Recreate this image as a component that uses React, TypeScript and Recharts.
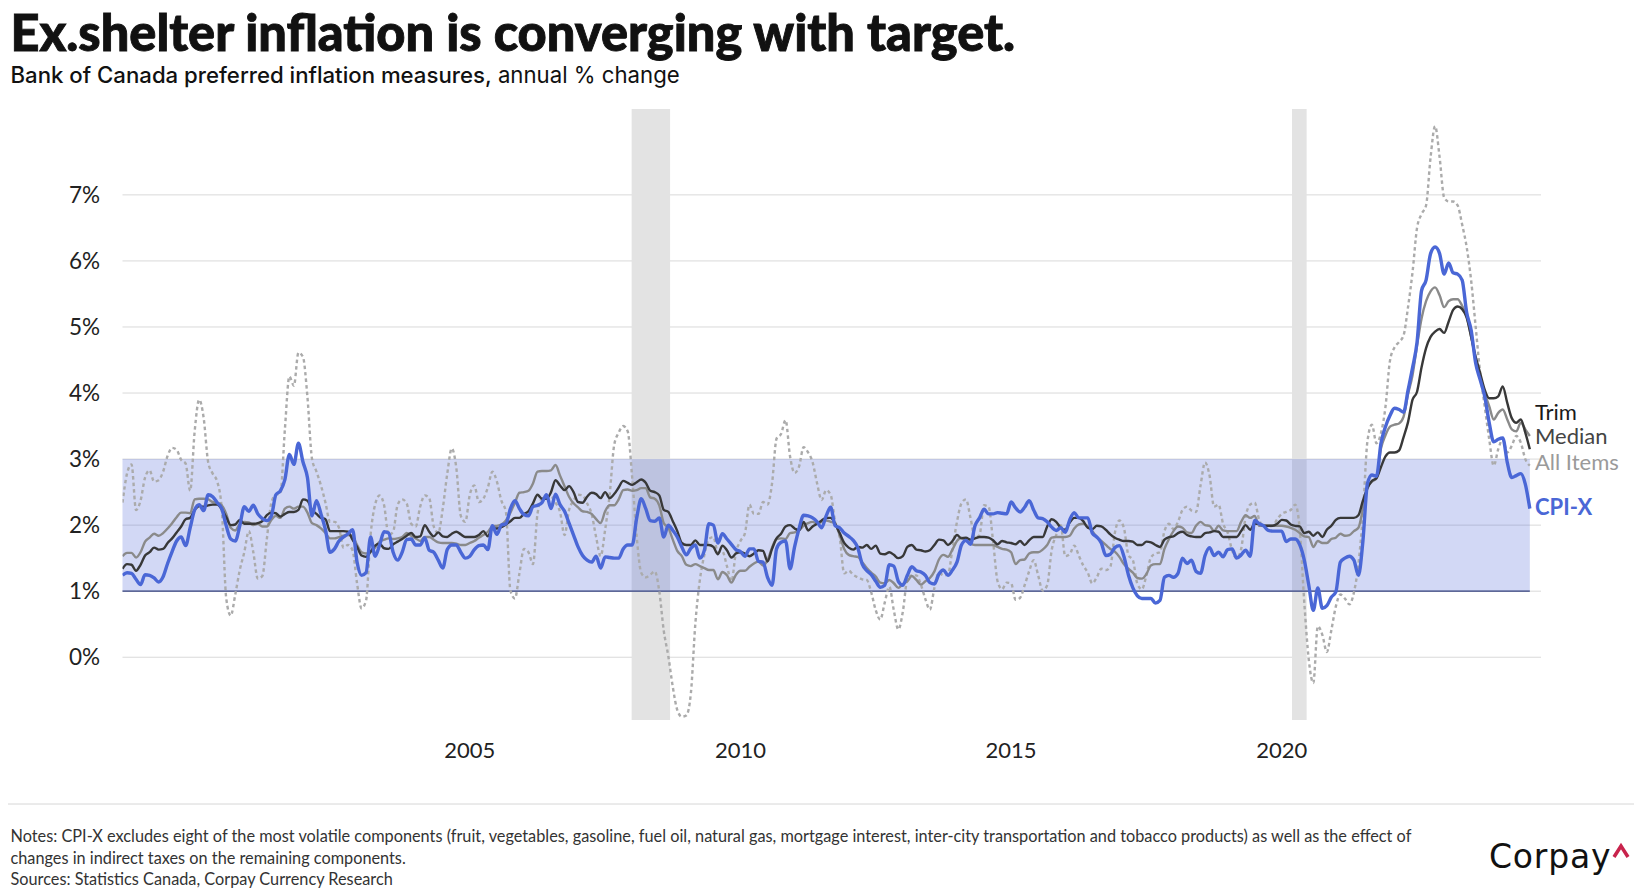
import React from 'react';
import { ComposedChart, Line, XAxis, YAxis, CartesianGrid, ReferenceArea, ReferenceLine } from 'recharts';

// monthly observations, first one is Aug 1998
const FIRST_MONTH = 1998 + 7 / 12;
const X_END = 2024.79;

const xTicks = [2005, 2010, 2015, 2020];
const yTicks = [0, 1, 2, 3, 4, 5, 6, 7];
const recessions = [
    [2007.99, 2008.7],
    [2020.19, 2020.46],
];
const targetLow = 1;
const targetHigh = 3;

const cpiX = [
    1.24, 1.28, 1.27, 1.18, 1.10, 1.25, 1.24, 1.20, 1.14, 1.22,
    1.42, 1.60, 1.76, 1.82, 1.69, 1.96, 2.23, 2.31, 2.22, 2.46,
    2.43, 2.34, 2.25, 1.99, 1.79, 1.76, 1.99, 2.28, 2.21, 2.30,
    2.17, 2.10, 2.07, 2.14, 2.46, 2.52, 2.69, 3.07, 2.92, 3.24,
    2.96, 2.72, 2.14, 2.37, 2.17, 1.93, 1.59, 1.64, 1.76, 1.82,
    1.87, 1.93, 1.44, 1.24, 1.28, 1.82, 1.53, 1.70, 1.90, 1.88,
    1.59, 1.47, 1.59, 1.78, 1.79, 1.70, 1.70, 1.81, 1.62, 1.59,
    1.47, 1.35, 1.63, 1.70, 1.70, 1.59, 1.50, 1.53, 1.63, 1.69,
    1.70, 1.63, 1.99, 1.86, 2.00, 2.02, 2.25, 2.37, 2.25, 2.16,
    2.14, 2.28, 2.30, 2.34, 2.46, 2.25, 2.47, 2.31, 2.21, 2.03,
    1.85, 1.67, 1.54, 1.47, 1.44, 1.53, 1.35, 1.52, 1.51, 1.50,
    1.50, 1.64, 1.70, 1.70, 2.11, 2.40, 2.25, 2.07, 2.06, 2.11,
    1.82, 2.00, 1.92, 1.82, 1.67, 1.55, 1.65, 1.70, 1.50, 1.62,
    2.02, 2.00, 1.73, 1.87, 1.79, 1.71, 1.63, 1.60, 1.53, 1.64,
    1.64, 1.45, 1.44, 1.21, 1.09, 1.64, 1.74, 1.76, 1.34, 1.67,
    1.95, 2.15, 2.14, 2.11, 2.05, 1.96, 2.14, 2.27, 1.99, 1.96,
    1.88, 1.83, 1.77, 1.66, 1.41, 1.31, 1.25, 1.15, 1.06, 1.09,
    1.40, 1.38, 1.15, 1.09, 1.24, 1.37, 1.31, 1.29, 1.24, 1.13,
    1.11, 1.26, 1.32, 1.24, 1.32, 1.44, 1.70, 1.77, 1.71, 1.99,
    2.11, 2.24, 2.17, 2.17, 2.19, 2.18, 2.17, 2.35, 2.26, 2.20,
    2.27, 2.37, 2.23, 2.11, 2.10, 2.05, 1.97, 1.92, 1.96, 1.89,
    2.08, 2.19, 2.11, 2.11, 2.11, 1.88, 1.82, 1.73, 1.54, 1.56,
    1.66, 1.69, 1.53, 1.25, 1.05, 0.93, 0.89, 0.89, 0.89, 0.82,
    0.86, 1.21, 1.24, 1.21, 1.27, 1.50, 1.42, 1.47, 1.30, 1.27,
    1.54, 1.66, 1.54, 1.59, 1.52, 1.63, 1.64, 1.50, 1.55, 1.62,
    1.53, 2.07, 2.02, 1.99, 1.92, 1.91, 1.91, 1.91, 1.75, 1.79,
    1.79, 1.70, 1.47, 1.09, 0.71, 1.05, 0.74, 0.78, 0.91, 0.99,
    1.44, 1.50, 1.53, 1.47, 1.24, 1.76, 2.63, 2.76, 2.74, 3.24,
    3.49, 3.66, 3.77, 3.75, 3.71, 4.04, 4.38, 4.77, 5.55, 5.71,
    6.11, 6.21, 6.11, 5.80, 5.97, 5.82, 5.80, 5.71, 5.22, 4.95,
    4.45, 4.20, 3.95, 3.55, 3.26, 3.30, 3.32, 2.95, 2.72, 2.75,
    2.78, 2.62, 2.25,
];

const trim = [
    1.34, 1.41, 1.40, 1.31, 1.40, 1.54, 1.59, 1.66, 1.63, 1.64,
    1.73, 1.80, 1.89, 1.98, 2.09, 2.11, 2.23, 2.29, 2.28, 2.30,
    2.31, 2.31, 2.24, 2.12, 2.00, 2.01, 2.08, 2.02, 2.02, 2.02,
    2.03, 2.06, 2.15, 2.19, 2.18, 2.13, 2.17, 2.20, 2.20, 2.23,
    2.39, 2.37, 2.23, 2.17, 2.11, 2.09, 1.91, 1.91, 1.91, 1.91,
    1.90, 1.78, 1.67, 1.54, 1.52, 1.60, 1.69, 1.72, 1.65, 1.64,
    1.71, 1.75, 1.79, 1.84, 1.88, 1.82, 1.83, 2.00, 1.90, 1.83,
    1.89, 1.83, 1.82, 1.87, 1.90, 1.86, 1.82, 1.82, 1.82, 1.85,
    1.91, 1.83, 1.95, 1.95, 1.97, 2.01, 2.06, 2.11, 2.11, 2.17,
    2.21, 2.33, 2.46, 2.40, 2.40, 2.50, 2.68, 2.60, 2.53, 2.59,
    2.50, 2.35, 2.34, 2.43, 2.49, 2.47, 2.41, 2.50, 2.41, 2.47,
    2.57, 2.67, 2.64, 2.61, 2.65, 2.69, 2.64, 2.52, 2.50, 2.45,
    2.23, 2.20, 2.06, 1.91, 1.73, 1.70, 1.70, 1.77, 1.70, 1.70,
    1.70, 1.67, 1.56, 1.69, 1.62, 1.51, 1.57, 1.59, 1.57, 1.53,
    1.57, 1.62, 1.61, 1.45, 1.64, 1.80, 1.87, 1.98, 2.00, 1.95,
    1.92, 2.05, 1.92, 1.98, 2.02, 2.07, 2.11, 2.11, 2.02, 1.88,
    1.73, 1.66, 1.63, 1.67, 1.66, 1.70, 1.64, 1.69, 1.57, 1.56,
    1.59, 1.55, 1.50, 1.53, 1.67, 1.70, 1.63, 1.62, 1.60, 1.62,
    1.70, 1.78, 1.77, 1.70, 1.76, 1.85, 1.80, 1.81, 1.78, 1.80,
    1.82, 1.82, 1.81, 1.77, 1.71, 1.76, 1.74, 1.73, 1.71, 1.76,
    1.70, 1.77, 1.82, 1.82, 1.82, 1.98, 2.09, 2.05, 1.96, 1.93,
    2.04, 2.11, 2.11, 2.06, 1.96, 1.94, 1.99, 1.98, 1.93, 1.86,
    1.81, 1.78, 1.76, 1.76, 1.75, 1.70, 1.70, 1.75, 1.74, 1.70,
    1.67, 1.78, 1.82, 1.83, 1.88, 1.90, 1.85, 1.83, 1.82, 1.82,
    1.88, 1.89, 1.91, 1.90, 1.82, 1.82, 1.82, 1.82, 1.91, 2.00,
    1.93, 2.02, 2.02, 1.99, 1.99, 1.99, 2.02, 2.08, 2.07, 2.01,
    1.99, 1.98, 1.88, 1.90, 1.84, 1.89, 1.82, 1.93, 1.99, 2.08,
    2.11, 2.11, 2.11, 2.11, 2.15, 2.37, 2.56, 2.67, 2.71, 2.88,
    3.04, 3.10, 3.10, 3.13, 3.33, 3.56, 3.90, 4.02, 4.39, 4.68,
    4.85, 4.93, 4.97, 4.91, 5.08, 5.26, 5.31, 5.27, 5.14, 4.85,
    4.55, 4.30, 4.05, 3.92, 3.92, 3.95, 4.10, 3.85, 3.62, 3.55,
    3.60, 3.40, 3.15,
];

const median = [
    1.53, 1.58, 1.58, 1.51, 1.59, 1.75, 1.81, 1.87, 1.84, 1.88,
    1.95, 2.03, 2.12, 2.19, 2.19, 2.18, 2.39, 2.40, 2.40, 2.39,
    2.35, 2.34, 2.30, 2.17, 1.96, 1.92, 2.02, 2.05, 2.04, 2.00,
    2.02, 1.98, 1.98, 2.08, 2.14, 2.11, 2.25, 2.28, 2.25, 2.28,
    2.28, 2.19, 2.03, 2.00, 1.95, 1.88, 1.80, 1.80, 1.82, 1.84,
    1.85, 1.83, 1.70, 1.59, 1.57, 1.59, 1.66, 1.75, 1.78, 1.80,
    1.79, 1.80, 1.82, 1.88, 1.84, 1.80, 1.76, 1.82, 1.82, 1.78,
    1.74, 1.73, 1.73, 1.73, 1.72, 1.70, 1.70, 1.73, 1.76, 1.81,
    1.85, 1.90, 1.98, 1.99, 2.01, 2.07, 2.19, 2.34, 2.49, 2.50,
    2.52, 2.63, 2.81, 2.82, 2.82, 2.83, 2.91, 2.75, 2.59, 2.43,
    2.33, 2.27, 2.21, 2.20, 2.17, 2.09, 2.03, 2.21, 2.30, 2.30,
    2.39, 2.53, 2.54, 2.52, 2.53, 2.56, 2.56, 2.42, 2.40, 2.30,
    2.03, 1.96, 1.78, 1.61, 1.53, 1.40, 1.38, 1.41, 1.38, 1.35,
    1.32, 1.32, 1.18, 1.29, 1.24, 1.13, 1.25, 1.31, 1.31, 1.37,
    1.42, 1.45, 1.39, 1.47, 1.66, 1.79, 1.80, 1.79, 1.88, 1.89,
    1.92, 1.99, 2.03, 2.05, 2.02, 2.05, 2.07, 2.05, 2.02, 1.85,
    1.64, 1.55, 1.53, 1.52, 1.44, 1.35, 1.28, 1.22, 1.13, 1.12,
    1.17, 1.12, 1.05, 1.11, 1.15, 1.23, 1.17, 1.10, 1.15, 1.20,
    1.30, 1.48, 1.55, 1.52, 1.63, 1.76, 1.81, 1.77, 1.72, 1.70,
    1.70, 1.70, 1.70, 1.70, 1.67, 1.64, 1.63, 1.59, 1.41, 1.47,
    1.48, 1.57, 1.59, 1.59, 1.63, 1.70, 1.81, 1.82, 1.82, 1.82,
    1.84, 1.95, 2.01, 2.02, 1.98, 1.91, 1.82, 1.76, 1.70, 1.64,
    1.60, 1.52, 1.41, 1.34, 1.28, 1.20, 1.19, 1.26, 1.39, 1.41,
    1.41, 1.64, 1.79, 1.91, 1.98, 1.96, 1.89, 1.88, 1.99, 2.05,
    2.00, 1.99, 1.91, 1.99, 1.92, 1.91, 1.91, 1.91, 2.05, 2.15,
    2.11, 2.14, 1.99, 1.99, 1.99, 1.99, 1.99, 1.99, 1.98, 1.96,
    1.93, 1.88, 1.83, 1.82, 1.67, 1.76, 1.73, 1.73, 1.79, 1.81,
    1.87, 1.84, 1.85, 1.91, 1.96, 2.25, 2.57, 2.66, 2.71, 3.16,
    3.36, 3.49, 3.52, 3.54, 3.64, 3.98, 4.27, 4.72, 5.13, 5.39,
    5.54, 5.60, 5.48, 5.30, 5.39, 5.42, 5.42, 5.32, 5.16, 4.85,
    4.50, 4.25, 4.00, 3.80, 3.60, 3.70, 3.75, 3.60, 3.45, 3.42,
    3.55, 3.45, 3.35,
];

const allItems = [
    2.34, 2.78, 2.92, 2.23, 2.37, 2.72, 2.83, 2.66, 2.68, 2.81,
    3.05, 3.17, 3.14, 2.99, 2.93, 2.52, 3.42, 3.90, 3.62, 2.95,
    2.78, 2.66, 2.25, 0.89, 0.63, 0.95, 1.32, 1.59, 1.91, 1.59,
    1.19, 1.23, 1.79, 2.34, 2.46, 2.48, 3.45, 4.25, 4.11, 4.61,
    4.55, 3.94, 3.01, 2.81, 2.60, 2.34, 2.05, 2.05, 1.96, 1.66,
    1.70, 1.62, 1.12, 0.74, 0.86, 1.85, 2.31, 2.45, 2.30, 1.85,
    1.90, 2.31, 2.39, 2.33, 2.02, 1.98, 2.28, 2.45, 2.41, 1.98,
    1.88, 2.25, 2.78, 3.16, 2.87, 2.14, 2.05, 2.46, 2.60, 2.35,
    2.40, 2.57, 2.81, 2.66, 2.37, 2.20, 1.01, 0.89, 1.27, 1.64,
    1.59, 1.41, 2.17, 2.40, 2.40, 2.43, 2.34, 2.20, 1.85, 2.23,
    2.37, 2.46, 2.45, 2.33, 2.17, 1.82, 1.53, 1.93, 2.46, 3.21,
    3.40, 3.50, 3.42, 2.72, 1.82, 1.28, 1.21, 1.25, 1.30, 1.00,
    0.40, 0.02, -0.45, -0.80, -0.90, -0.88, -0.55, 0.51, 1.17, 1.55,
    1.79, 1.82, 1.59, 1.60, 1.38, 1.15, 1.59, 1.76, 1.88, 2.31,
    2.17, 2.17, 2.35, 2.31, 2.63, 3.31, 3.38, 3.59, 3.04, 2.79,
    2.89, 3.18, 3.10, 2.95, 2.63, 2.38, 2.53, 2.46, 2.05, 1.82,
    1.27, 1.31, 1.25, 1.21, 1.18, 1.17, 0.98, 0.71, 0.57, 0.83,
    1.07, 0.71, 0.42, 0.69, 1.18, 1.24, 1.24, 1.10, 0.88, 0.72,
    1.05, 1.28, 1.24, 1.25, 1.64, 2.05, 2.33, 2.39, 2.11, 1.81,
    1.85, 2.30, 2.28, 1.76, 1.15, 1.03, 1.13, 1.12, 0.87, 0.90,
    1.09, 1.30, 1.47, 1.24, 1.01, 1.09, 1.62, 1.85, 2.00, 1.53,
    1.56, 1.69, 1.54, 1.39, 1.28, 1.12, 1.21, 1.34, 1.32, 1.37,
    1.88, 2.07, 1.96, 1.55, 1.47, 1.11, 1.03, 1.24, 1.51, 1.57,
    1.59, 1.91, 2.02, 1.94, 2.05, 2.23, 2.28, 2.22, 2.20, 2.60,
    2.95, 2.75, 2.28, 2.31, 2.02, 1.89, 1.62, 1.50, 1.64, 2.13,
    2.31, 2.34, 2.08, 1.98, 1.98, 1.99, 2.09, 2.17, 2.20, 2.23,
    2.31, 1.93, 0.83, -0.04, -0.39, 0.47, 0.34, 0.08, 0.41, 0.77,
    0.95, 0.89, 0.80, 0.98, 1.41, 2.17, 3.27, 3.52, 3.24, 3.39,
    3.79, 4.49, 4.69, 4.77, 4.87, 5.30, 5.83, 6.50, 6.71, 6.84,
    7.57, 8.04, 7.57, 6.96, 6.90, 6.90, 6.84, 6.55, 6.21, 5.70,
    5.00, 4.30, 3.80, 3.30, 2.90, 3.15, 3.30, 3.10, 3.20, 3.35,
    3.25, 3.00, 2.90,
];

const data = cpiX.map((v, i) => ({
    t: FIRST_MONTH + i / 12,
    cpiX: v,
    trim: trim[i],
    median: median[i],
    allItems: allItems[i],
}));
const firstT = data[0].t;
const lastT = data[data.length - 1].t;

const BLUE = '#4a67d6';
const FONT = 'Lato, "Noto Sans", sans-serif';

export default function App() {
    return (
        <div style={{ position: 'relative', width: 1642, height: 896, background: '#fff', overflow: 'hidden' }}>
            <style>{`body{margin:0}`}</style>
            <div style={{ position: 'absolute', left: 0, top: 0 }}>
                <ComposedChart width={1642} height={896} data={data} margin={{ top: 109, right: 101, bottom: 146, left: 0 }}>
                    <CartesianGrid horizontal vertical={false} horizontalValues={yTicks} stroke="#d9d9d9" />
                    {recessions.map(([a, b], i) => (
                        <ReferenceArea key={i} x1={a} x2={b} fill="#e3e3e3" fillOpacity={1} stroke="none" />
                    ))}
                    <ReferenceArea x1={firstT} x2={lastT} y1={targetLow} y2={targetHigh} fill="#4a64d8" fillOpacity={0.25} stroke="none" />
                    <ReferenceLine
                        segment={[{ x: firstT, y: targetLow }, { x: lastT, y: targetLow }]}
                        stroke="#34427e"
                        strokeWidth={1.2}
                    />
                    <XAxis
                        dataKey="t"
                        type="number"
                        domain={[FIRST_MONTH, X_END]}
                        ticks={xTicks}
                        allowDataOverflow
                        axisLine={false}
                        tickLine={false}
                        height={30}
                        tickMargin={16}
                        tick={{ fontSize: 22, fill: '#222', fontFamily: FONT }}
                    />
                    <YAxis
                        type="number"
                        domain={[-0.95, 8.3]}
                        ticks={yTicks}
                        allowDataOverflow
                        width={122.5}
                        axisLine={false}
                        tickLine={false}
                        tickMargin={16.5}
                        tickFormatter={(v) => `${v}%`}
                        tick={{ fontSize: 22.5, fill: '#222', fontFamily: FONT }}
                    />
                    <Line dataKey="allItems" type="monotone" stroke="#ababab" strokeWidth={2.4} strokeDasharray="3.5 3" dot={false} isAnimationActive={false} />
                    <Line dataKey="median" type="monotone" stroke="#8a8a8a" strokeWidth={2.4} dot={false} isAnimationActive={false} />
                    <Line dataKey="trim" type="monotone" stroke="#383838" strokeWidth={2.4} dot={false} isAnimationActive={false} />
                    <Line dataKey="cpiX" type="monotone" stroke={BLUE} strokeWidth={3.4} dot={false} isAnimationActive={false} />
                </ComposedChart>
            </div>

            <svg width={1642} height={896} style={{ position: 'absolute', left: 0, top: 0, pointerEvents: 'none' }}>
                <text x={10.5} y={51} fontFamily={FONT} fontWeight={900} fontSize={50.5} fill="#111" stroke="#111" strokeWidth={0.9}>
                    Ex.shelter inflation is converging with target.
                </text>
                <text x={10.5} y={82.5} fontFamily='Inter, Lato, sans-serif' fontSize={22.2} fill="#111">
                    <tspan fontWeight={500}>Bank of Canada preferred inflation measures,</tspan>
                    <tspan fontWeight={400}> annual % change</tspan>
                </text>

                <text x={1535} y={420} fontFamily={FONT} fontSize={22} fill="#1a1a1a">Trim</text>
                <text x={1535} y={444} fontFamily={FONT} fontSize={22} fill="#444">Median</text>
                <text x={1535} y={470} fontFamily={FONT} fontSize={22} fill="#9a9a9a">All Items</text>
                <text x={1535} y={515} fontFamily={FONT} fontSize={22} fontWeight={700} fill={BLUE}>CPI-X</text>

                <line x1={8} x2={1634} y1={804} y2={804} stroke="#d6d6d6" strokeWidth={1} />
                <g fontFamily={FONT} fontSize={16.3} fill="#333">
                    <text x={10.5} y={842}>
                        Notes: CPI-X excludes eight of the most volatile components (fruit, vegetables, gasoline, fuel oil, natural gas, mortgage interest, inter-city transportation and tobacco products) as well as the effect of
                    </text>
                    <text x={10.5} y={863.5}>changes in indirect taxes on the remaining components.</text>
                    <text x={10.5} y={885}>Sources: Statistics Canada, Corpay Currency Research</text>
                </g>

                <text x={1489} y={868} fontFamily='"DejaVu Sans", sans-serif' fontSize={33} letterSpacing={0.8} fill="#111">Corpay</text>
                <path d="M1614,857 L1621,846 L1628,857" fill="none" stroke="#c8234c" strokeWidth={3.5} strokeLinejoin="miter" />
            </svg>
        </div>
    );
}
